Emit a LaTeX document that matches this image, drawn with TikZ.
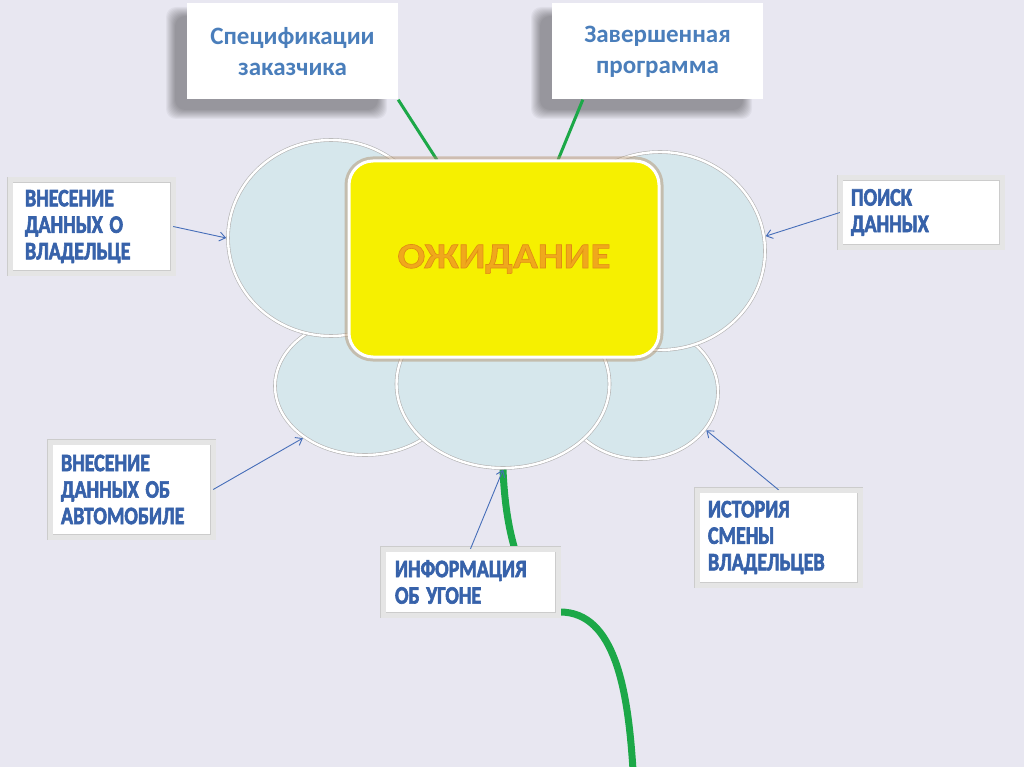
\documentclass[tikz,border=0pt]{standalone}
\usepackage{fontspec}
\usepackage{graphicx}
\setmainfont{Carlito}
\usetikzlibrary{shapes.geometric,shadows,arrows.meta}
\definecolor{bg}{RGB}{232,231,241}
\definecolor{petal}{RGB}{214,231,236}
\definecolor{stemgreen}{RGB}{28,168,72}
\definecolor{arrowblue}{RGB}{70,110,185}
\definecolor{txtblue}{RGB}{74,126,187}
\definecolor{capblue}{RGB}{55,98,170}
\definecolor{ylw}{RGB}{246,240,0}
\definecolor{org}{RGB}{240,168,28}
\definecolor{tan}{RGB}{175,140,100}
\newcommand\cnd[1]{\scalebox{0.8}[1]{\special{pdf:literal direct 0.216 0.384 0.667 RG 0.7 w 2 Tr}#1\special{pdf:literal direct 0 Tr}}}
\newcommand\outlined[1]{\special{pdf:literal direct 0.88 0.55 0.08 RG 0.6 w 2 Tr}#1\special{pdf:literal direct 0 Tr}}
\newcommand\softshadow[4]{%
  \foreach \i in {0,...,9}{%
    \fill[black, opacity=0.04, rounded corners=10pt]
      (#1-9+\i,#2-9+\i) rectangle (#3+9-\i,#4+9-\i);}}
\begin{document}
\begin{tikzpicture}[x=1pt,y=-1pt,
  petalst/.style={ellipse, inner sep=0pt, fill=petal, draw=gray!60, line width=3.6pt,
    postaction={draw=white, line width=2.4pt}},
  topbox/.style={rectangle, fill=white, minimum width=211pt, minimum height=96pt,
    font=\fontsize{25}{31}\selectfont\bfseries, text=txtblue, align=center},
  lblbox/.style={rectangle, fill=white, draw=gray!40, double=gray!20, double distance=5pt,
    drop shadow={shadow xshift=1.5pt, shadow yshift=-1.5pt, opacity=0.3, fill=gray},
    font=\fontsize{25}{26.5}\selectfont\bfseries, text=capblue, align=left,
    inner xsep=11pt, inner ysep=0pt},
  mainbox/.style={rectangle, rounded corners=24pt, fill=ylw, draw=white, line width=3pt,
    preaction={draw=tan, line width=9pt, opacity=0.45},
    minimum width=310pt, minimum height=196pt,
    font=\fontsize{36}{40}\selectfont\bfseries, text=org},
  greenline/.style={draw=stemgreen, line width=3pt},
  stemline/.style={draw=stemgreen, line width=7pt},
  pointer/.style={draw=arrowblue, line width=0.9pt, -{Straight Barb[length=6pt,width=9pt]}}
]
\fill[bg] (0,0) rectangle (1024,767);
\useasboundingbox (0,0) rectangle (1024,767);

% soft shadows of the top boxes
\softshadow{175}{16}{378}{110}
\softshadow{540}{16}{743}{110}

% top boxes
\node[topbox] (spec) at (292.5,51.5) {Спецификации\\заказчика};
\node[topbox] (prog) at (657.5,51.5) {Завершенная\\программа};

% petals
\node[petalst, minimum width=180pt, minimum height=138pt] (pLL) at (365,386) {};
\node[petalst, minimum width=156pt, minimum height=134pt] (pLR) at (640,392) {};
\node[petalst, minimum width=213pt, minimum height=168pt] (pB) at (503,384) {};
\node[petalst, minimum width=206pt, minimum height=196pt] (pUL) at (331,238) {};
\node[petalst, minimum width=210pt, minimum height=198pt] (pUR) at (660,251) {};

% green lines to top boxes
\draw[greenline] (spec.south east) -- (437,160) coordinate (gA);
\draw[greenline] ([xshift=31pt]prog.south west) -- (558,160) coordinate (gB);

% central box
\node[mainbox] (main) at (504,259) {\scalebox{1.14}[1]{\outlined{ОЖИДАНИЕ}}};

% stem
\draw[stemline] (pB.south) .. controls (505,515) and (512,545) .. (522,570)
  .. controls (530,595) and (540,612) .. (560,612)
  .. controls (615,612) and (628,690) .. (633,770) coordinate (stemend);

% label boxes
\node[lblbox, inner xsep=15pt, minimum width=163pt, minimum height=93pt, text width=133pt] (own) at (91.5,226.5) {\cnd{ВНЕСЕНИЕ}\\\cnd{ДАННЫХ О}\\\cnd{ВЛАДЕЛЬЦЕ}};
\node[lblbox, minimum width=162pt, minimum height=69pt, text width=140pt] (find) at (921,212.5) {\cnd{ПОИСК}\\\cnd{ДАННЫХ}};
\node[lblbox, minimum width=163pt, minimum height=95pt, text width=141pt] (auto) at (131.5,489.5) {\cnd{ВНЕСЕНИЕ}\\\cnd{ДАННЫХ ОБ}\\\cnd{АВТОМОБИЛЕ}};
\node[lblbox, inner xsep=12pt, minimum width=175pt, minimum height=66pt, text width=151pt] (info) at (470.5,582) {\cnd{ИНФОРМАЦИЯ}\\\cnd{ОБ УГОНЕ}};
\node[lblbox, minimum width=163pt, minimum height=95pt, text width=141pt] (hist) at (778.5,537.5) {\cnd{ИСТОРИЯ}\\\cnd{СМЕНЫ}\\\cnd{ВЛАДЕЛЬЦЕВ}};

% pointers
\draw[pointer] (own.east) -- (pUL.west);
\draw[pointer] (find.west) -- (pUR.8);
\draw[pointer] (auto.east) -- (pLL.220);
\draw[pointer] (info.north) -- (pB.south);
\draw[pointer] (hist.north) -- (pLR.-30);
\end{tikzpicture}
\end{document}
